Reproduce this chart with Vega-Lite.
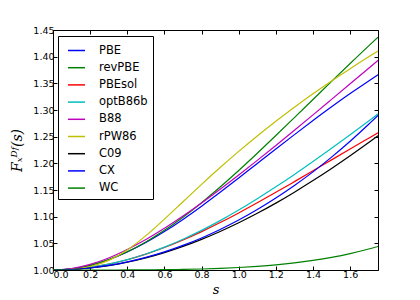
{
  "$schema": "https://vega.github.io/schema/vega-lite/v6.json",
  "width": 325,
  "height": 240,
  "autosize": {"type": "none"},
  "padding": {"left": 53, "top": 30, "right": 42, "bottom": 30},
  "background": "white",
  "config": {
    "view": {"stroke": null},
    "axis": {
      "grid": false,
      "labelFont": "DejaVu Sans",
      "labelFontSize": 9.5,
      "labelColor": "black",
      "tickColor": "black",
      "domainColor": "black",
      "domainWidth": 1,
      "tickWidth": 1,
      "tickSize": -4,
      "labelPadding": 3,
      "titleColor": "black",
      "titleFont": "DejaVu Serif",
      "titleFontStyle": "italic",
      "titleFontWeight": "normal"
    }
  },
  "datasets": {
    "curves": [
      {"s": 0, "F": 1, "functional": "PBE"},
      {"s": 0.1, "F": 1.0022, "functional": "PBE"},
      {"s": 0.2, "F": 1.0087, "functional": "PBE"},
      {"s": 0.3, "F": 1.0193, "functional": "PBE"},
      {"s": 0.4, "F": 1.0337, "functional": "PBE"},
      {"s": 0.5, "F": 1.0514, "functional": "PBE"},
      {"s": 0.6, "F": 1.072, "functional": "PBE"},
      {"s": 0.7, "F": 1.0949, "functional": "PBE"},
      {"s": 0.8, "F": 1.1196, "functional": "PBE"},
      {"s": 0.9, "F": 1.1456, "functional": "PBE"},
      {"s": 1.0, "F": 1.1724, "functional": "PBE"},
      {"s": 1.1, "F": 1.1997, "functional": "PBE"},
      {"s": 1.2, "F": 1.2269, "functional": "PBE"},
      {"s": 1.3, "F": 1.2538, "functional": "PBE"},
      {"s": 1.4, "F": 1.2803, "functional": "PBE"},
      {"s": 1.5, "F": 1.306, "functional": "PBE"},
      {"s": 1.6, "F": 1.3308, "functional": "PBE"},
      {"s": 1.7, "F": 1.3546, "functional": "PBE"},
      {"s": 1.75, "F": 1.3661, "functional": "PBE"},
      {"s": 0, "F": 1, "functional": "revPBE"},
      {"s": 0.1, "F": 1.0022, "functional": "revPBE"},
      {"s": 0.2, "F": 1.0087, "functional": "revPBE"},
      {"s": 0.3, "F": 1.0195, "functional": "revPBE"},
      {"s": 0.4, "F": 1.0342, "functional": "revPBE"},
      {"s": 0.5, "F": 1.0526, "functional": "revPBE"},
      {"s": 0.6, "F": 1.0743, "functional": "revPBE"},
      {"s": 0.7, "F": 1.099, "functional": "revPBE"},
      {"s": 0.8, "F": 1.1262, "functional": "revPBE"},
      {"s": 0.9, "F": 1.1556, "functional": "revPBE"},
      {"s": 1.0, "F": 1.1866, "functional": "revPBE"},
      {"s": 1.1, "F": 1.2189, "functional": "revPBE"},
      {"s": 1.2, "F": 1.2521, "functional": "revPBE"},
      {"s": 1.3, "F": 1.2858, "functional": "revPBE"},
      {"s": 1.4, "F": 1.3197, "functional": "revPBE"},
      {"s": 1.5, "F": 1.3536, "functional": "revPBE"},
      {"s": 1.6, "F": 1.3872, "functional": "revPBE"},
      {"s": 1.7, "F": 1.4203, "functional": "revPBE"},
      {"s": 1.75, "F": 1.4365, "functional": "revPBE"},
      {"s": 0, "F": 1, "functional": "PBEsol"},
      {"s": 0.1, "F": 1.0012, "functional": "PBEsol"},
      {"s": 0.2, "F": 1.0049, "functional": "PBEsol"},
      {"s": 0.3, "F": 1.011, "functional": "PBEsol"},
      {"s": 0.4, "F": 1.0193, "functional": "PBEsol"},
      {"s": 0.5, "F": 1.0297, "functional": "PBEsol"},
      {"s": 0.6, "F": 1.0421, "functional": "PBEsol"},
      {"s": 0.7, "F": 1.0563, "functional": "PBEsol"},
      {"s": 0.8, "F": 1.0719, "functional": "PBEsol"},
      {"s": 0.9, "F": 1.0889, "functional": "PBEsol"},
      {"s": 1.0, "F": 1.107, "functional": "PBEsol"},
      {"s": 1.1, "F": 1.126, "functional": "PBEsol"},
      {"s": 1.2, "F": 1.1456, "functional": "PBEsol"},
      {"s": 1.3, "F": 1.1657, "functional": "PBEsol"},
      {"s": 1.4, "F": 1.186, "functional": "PBEsol"},
      {"s": 1.5, "F": 1.2065, "functional": "PBEsol"},
      {"s": 1.6, "F": 1.2269, "functional": "PBEsol"},
      {"s": 1.7, "F": 1.2471, "functional": "PBEsol"},
      {"s": 1.75, "F": 1.2572, "functional": "PBEsol"},
      {"s": 0, "F": 1, "functional": "optB86b"},
      {"s": 0.1, "F": 1.0012, "functional": "optB86b"},
      {"s": 0.2, "F": 1.0049, "functional": "optB86b"},
      {"s": 0.3, "F": 1.011, "functional": "optB86b"},
      {"s": 0.4, "F": 1.0194, "functional": "optB86b"},
      {"s": 0.5, "F": 1.0301, "functional": "optB86b"},
      {"s": 0.6, "F": 1.0429, "functional": "optB86b"},
      {"s": 0.7, "F": 1.0577, "functional": "optB86b"},
      {"s": 0.8, "F": 1.0743, "functional": "optB86b"},
      {"s": 0.9, "F": 1.0926, "functional": "optB86b"},
      {"s": 1.0, "F": 1.1124, "functional": "optB86b"},
      {"s": 1.1, "F": 1.1336, "functional": "optB86b"},
      {"s": 1.2, "F": 1.1559, "functional": "optB86b"},
      {"s": 1.3, "F": 1.1792, "functional": "optB86b"},
      {"s": 1.4, "F": 1.2034, "functional": "optB86b"},
      {"s": 1.5, "F": 1.2282, "functional": "optB86b"},
      {"s": 1.6, "F": 1.2536, "functional": "optB86b"},
      {"s": 1.7, "F": 1.2794, "functional": "optB86b"},
      {"s": 1.75, "F": 1.2924, "functional": "optB86b"},
      {"s": 0, "F": 1, "functional": "B88"},
      {"s": 0.1, "F": 1.0027, "functional": "B88"},
      {"s": 0.2, "F": 1.0105, "functional": "B88"},
      {"s": 0.3, "F": 1.0226, "functional": "B88"},
      {"s": 0.4, "F": 1.0383, "functional": "B88"},
      {"s": 0.5, "F": 1.057, "functional": "B88"},
      {"s": 0.6, "F": 1.0781, "functional": "B88"},
      {"s": 0.7, "F": 1.1011, "functional": "B88"},
      {"s": 0.8, "F": 1.1256, "functional": "B88"},
      {"s": 0.9, "F": 1.1514, "functional": "B88"},
      {"s": 1.0, "F": 1.1781, "functional": "B88"},
      {"s": 1.1, "F": 1.2055, "functional": "B88"},
      {"s": 1.2, "F": 1.2336, "functional": "B88"},
      {"s": 1.3, "F": 1.262, "functional": "B88"},
      {"s": 1.4, "F": 1.2908, "functional": "B88"},
      {"s": 1.5, "F": 1.3199, "functional": "B88"},
      {"s": 1.6, "F": 1.3491, "functional": "B88"},
      {"s": 1.7, "F": 1.3784, "functional": "B88"},
      {"s": 1.75, "F": 1.3931, "functional": "B88"},
      {"s": 0, "F": 1, "functional": "rPW86"},
      {"s": 0.1, "F": 1.0013, "functional": "rPW86"},
      {"s": 0.2, "F": 1.0065, "functional": "rPW86"},
      {"s": 0.3, "F": 1.018, "functional": "rPW86"},
      {"s": 0.4, "F": 1.0376, "functional": "rPW86"},
      {"s": 0.5, "F": 1.0644, "functional": "rPW86"},
      {"s": 0.6, "F": 1.0954, "functional": "rPW86"},
      {"s": 0.7, "F": 1.128, "functional": "rPW86"},
      {"s": 0.8, "F": 1.1605, "functional": "rPW86"},
      {"s": 0.9, "F": 1.1921, "functional": "rPW86"},
      {"s": 1.0, "F": 1.2224, "functional": "rPW86"},
      {"s": 1.1, "F": 1.2514, "functional": "rPW86"},
      {"s": 1.2, "F": 1.279, "functional": "rPW86"},
      {"s": 1.3, "F": 1.3053, "functional": "rPW86"},
      {"s": 1.4, "F": 1.3304, "functional": "rPW86"},
      {"s": 1.5, "F": 1.3545, "functional": "rPW86"},
      {"s": 1.6, "F": 1.3775, "functional": "rPW86"},
      {"s": 1.7, "F": 1.3997, "functional": "rPW86"},
      {"s": 1.75, "F": 1.4104, "functional": "rPW86"},
      {"s": 0, "F": 1, "functional": "C09"},
      {"s": 0.1, "F": 1.0009, "functional": "C09"},
      {"s": 0.2, "F": 1.0037, "functional": "C09"},
      {"s": 0.3, "F": 1.0082, "functional": "C09"},
      {"s": 0.4, "F": 1.0146, "functional": "C09"},
      {"s": 0.5, "F": 1.0227, "functional": "C09"},
      {"s": 0.6, "F": 1.0326, "functional": "C09"},
      {"s": 0.7, "F": 1.0442, "functional": "C09"},
      {"s": 0.8, "F": 1.0574, "functional": "C09"},
      {"s": 0.9, "F": 1.0722, "functional": "C09"},
      {"s": 1.0, "F": 1.0885, "functional": "C09"},
      {"s": 1.1, "F": 1.1063, "functional": "C09"},
      {"s": 1.2, "F": 1.1254, "functional": "C09"},
      {"s": 1.3, "F": 1.1459, "functional": "C09"},
      {"s": 1.4, "F": 1.1676, "functional": "C09"},
      {"s": 1.5, "F": 1.1904, "functional": "C09"},
      {"s": 1.6, "F": 1.2142, "functional": "C09"},
      {"s": 1.7, "F": 1.239, "functional": "C09"},
      {"s": 1.75, "F": 1.2517, "functional": "C09"},
      {"s": 0, "F": 1, "functional": "CX"},
      {"s": 0.1, "F": 1.0009, "functional": "CX"},
      {"s": 0.2, "F": 1.0038, "functional": "CX"},
      {"s": 0.3, "F": 1.0085, "functional": "CX"},
      {"s": 0.4, "F": 1.0151, "functional": "CX"},
      {"s": 0.5, "F": 1.0236, "functional": "CX"},
      {"s": 0.6, "F": 1.0339, "functional": "CX"},
      {"s": 0.7, "F": 1.0461, "functional": "CX"},
      {"s": 0.8, "F": 1.0601, "functional": "CX"},
      {"s": 0.9, "F": 1.076, "functional": "CX"},
      {"s": 1.0, "F": 1.0937, "functional": "CX"},
      {"s": 1.1, "F": 1.1134, "functional": "CX"},
      {"s": 1.2, "F": 1.135, "functional": "CX"},
      {"s": 1.3, "F": 1.1585, "functional": "CX"},
      {"s": 1.4, "F": 1.184, "functional": "CX"},
      {"s": 1.5, "F": 1.2117, "functional": "CX"},
      {"s": 1.6, "F": 1.2414, "functional": "CX"},
      {"s": 1.7, "F": 1.2732, "functional": "CX"},
      {"s": 1.75, "F": 1.2898, "functional": "CX"},
      {"s": 0, "F": 1, "functional": "WC"},
      {"s": 0.1, "F": 1.0, "functional": "WC"},
      {"s": 0.2, "F": 1.0, "functional": "WC"},
      {"s": 0.3, "F": 1.0, "functional": "WC"},
      {"s": 0.4, "F": 1.0001, "functional": "WC"},
      {"s": 0.5, "F": 1.0003, "functional": "WC"},
      {"s": 0.6, "F": 1.0006, "functional": "WC"},
      {"s": 0.7, "F": 1.0011, "functional": "WC"},
      {"s": 0.8, "F": 1.0019, "functional": "WC"},
      {"s": 0.9, "F": 1.0031, "functional": "WC"},
      {"s": 1.0, "F": 1.0047, "functional": "WC"},
      {"s": 1.1, "F": 1.0069, "functional": "WC"},
      {"s": 1.2, "F": 1.0097, "functional": "WC"},
      {"s": 1.3, "F": 1.0134, "functional": "WC"},
      {"s": 1.4, "F": 1.0181, "functional": "WC"},
      {"s": 1.5, "F": 1.0238, "functional": "WC"},
      {"s": 1.6, "F": 1.0308, "functional": "WC"},
      {"s": 1.7, "F": 1.0393, "functional": "WC"},
      {"s": 1.75, "F": 1.0441, "functional": "WC"}
    ]
  },
  "data": {"name": "curves"},
  "layer": [
    {
      "mark": {"type": "line", "strokeWidth": 1.2, "interpolate": "monotone", "clip": true},
      "encoding": {
        "x": {
          "field": "s", "type": "quantitative",
          "scale": {"domain": [0, 1.75], "nice": false, "zero": false},
          "axis": {"orient": "bottom", "values": [0, 0.2, 0.4, 0.6, 0.8, 1.0, 1.2, 1.4, 1.6], "format": ".1f", "title": "s", "titleFontSize": 13, "titlePadding": 5}
        },
        "y": {
          "field": "F", "type": "quantitative",
          "scale": {"domain": [1, 1.45], "nice": false, "zero": false},
          "axis": {"orient": "left", "values": [1, 1.05, 1.1, 1.15, 1.2, 1.25, 1.3, 1.35, 1.4, 1.45], "format": ".2f", "title": "Fₓᴰᶠ(s)", "titleFontSize": 14, "titlePadding": 8}
        },
        "color": {
          "field": "functional", "type": "nominal",
          "scale": {
            "domain": ["PBE", "revPBE", "PBEsol", "optB86b", "B88", "rPW86", "C09", "CX", "WC"],
            "range": ["#0000ff", "#008000", "#ff0000", "#00bfbf", "#bf00bf", "#bfbf00", "#000000", "#0000ff", "#008000"]
          },
          "legend": {
            "title": null,
            "orient": "none",
            "legendX": 5,
            "legendY": 6,
            "symbolType": "stroke",
            "symbolSize": 289,
            "symbolStrokeWidth": 1.5,
            "labelFont": "DejaVu Sans",
            "labelFontSize": 11.5,
            "labelColor": "black",
            "labelOffset": 13,
            "rowPadding": 2.2,
            "padding": 5,
            "symbolOffset": 4,
            "strokeColor": "black",
            "fillColor": "white",
            "cornerRadius": 0
          }
        }
      }
    },
    {
      "mark": {"type": "point", "opacity": 0},
      "encoding": {
        "x": {
          "field": "s", "type": "quantitative",
          "axis": {"orient": "top", "values": [0, 0.2, 0.4, 0.6, 0.8, 1.0, 1.2, 1.4, 1.6], "labels": false, "title": null}
        },
        "y": {
          "field": "F", "type": "quantitative",
          "axis": {"orient": "right", "values": [1, 1.05, 1.1, 1.15, 1.2, 1.25, 1.3, 1.35, 1.4, 1.45], "labels": false, "title": null}
        }
      }
    }
  ],
  "resolve": {"axis": {"x": "independent", "y": "independent"}}
}
